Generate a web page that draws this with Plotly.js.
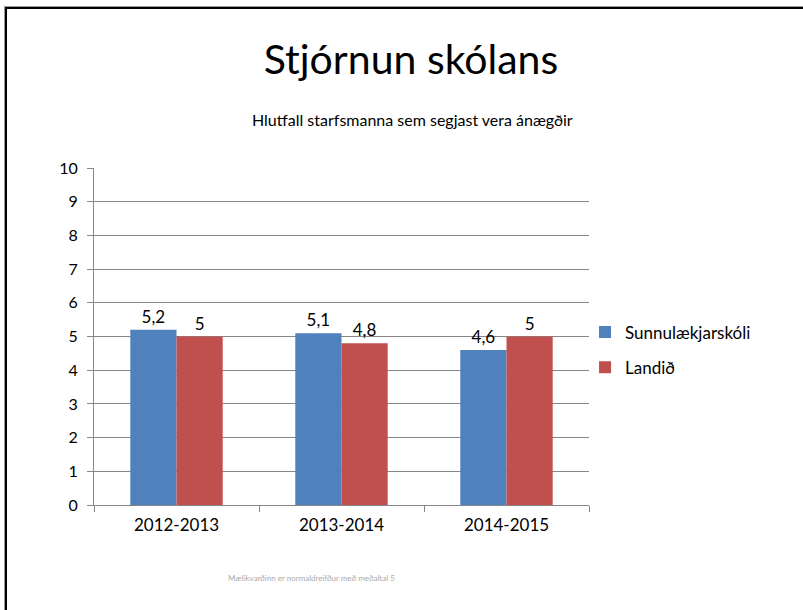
<!DOCTYPE html>
<html>
<head>
<meta charset="utf-8">
<script src="https://cdn.plot.ly/plotly-3.0.1.min.js"></script>
<style>
  html, body { margin: 0; padding: 0; background: #fff; }
  #frame { position: absolute; left: 5px; top: 7px; width: 900px; height: 700px;
           border-left: 2px solid #000; border-top: 2px solid #000;
           box-shadow: -1px -1px 0 #999; }
  #chart { position: absolute; left: 0; top: 0; width: 803px; height: 610px; }
</style>
</head>
<body>
<div id="frame"></div>
<div id="chart"></div>
<script>
const categories = ["2012-2013", "2013-2014", "2014-2015"];
const seriesNames = ["Sunnulækjarskóli", "Landið"];
const sunnulaekjarskoli = [5.2, 5.1, 4.6];
const landid = [5.0, 4.8, 5.0];
const yTicks = [0, 1, 2, 3, 4, 5, 6, 7, 8, 9, 10];
const titleText = "Stjórnun skólans";
const subtitleText = "Hlutfall starfsmanna sem segjast vera ánægðir";
const footnoteText = "Mælikvarðinn er normaldreifður með meðaltal 5";

const font = "Lato, 'Open Sans', sans-serif";

const traces = [
  { type: "bar", name: seriesNames[0], x: categories, y: sunnulaekjarskoli,
    marker: { color: "#4F81BD" }, legendgroup: "a",
    text: sunnulaekjarskoli, texttemplate: "%{y}", textposition: "outside",
    textfont: { size: 17, color: "#000", family: font }, cliponaxis: false },
  { type: "bar", name: seriesNames[1], x: categories, y: landid,
    marker: { color: "#C0504D" }, legendgroup: "b",
    text: landid, texttemplate: "%{y}", textposition: "outside",
    textfont: { size: 17, color: "#000", family: font }, cliponaxis: false }
];

const layout = {
  width: 803, height: 610,
  paper_bgcolor: "rgba(0,0,0,0)", plot_bgcolor: "rgba(0,0,0,0)",
  separators: ",.",
  font: { family: font, color: "#000" },
  margin: { l: 94, r: 214, t: 168, b: 105 },
  barmode: "group", bargap: 0.44, bargroupgap: 0,
  title: { text: titleText, font: { size: 41, family: font, color: "#000" },
           xref: "container", x: 411 / 803, xanchor: "center",
           yref: "container", y: 1 - 60 / 610, yanchor: "middle" },
  xaxis: { type: "category", showgrid: false, showline: true, linecolor: "#868686", linewidth: 1,
           ticks: "outside", tickson: "boundaries", ticklen: 6, tickcolor: "#868686",
           tickfont: { size: 17, color: "#000" }, ticklabelstandoff: 5 },
  yaxis: { range: [0, 10], tickvals: yTicks, showgrid: true, gridcolor: "#868686", gridwidth: 1,
           showline: true, linecolor: "#868686", linewidth: 1, zeroline: false,
           ticks: "outside", ticklen: 6, tickcolor: "#868686",
           tickfont: { size: 16, color: "#000" }, ticklabelstandoff: 6 },
  legend: { x: 0.992, xanchor: "left", y: 0.46, yanchor: "middle",
            font: { size: 17, color: "#000", family: font }, traceorder: "grouped",
            tracegroupgap: 10, bgcolor: "rgba(0,0,0,0)" },
  annotations: [
    { text: subtitleText, xref: "paper", yref: "paper", x: (412 - 94) / 495, y: (505 - 120) / 337,
      xanchor: "center", yanchor: "middle", showarrow: false, font: { size: 16, color: "#000", family: font } },
    { text: footnoteText, xref: "paper", yref: "paper", x: (311 - 94) / 495, y: (505 - 578) / 337,
      xanchor: "center", yanchor: "middle", showarrow: false, font: { size: 8, color: "#aaa", family: font } }
  ],
  showlegend: true
};

Plotly.newPlot("chart", traces, layout, { displayModeBar: false, staticPlot: true });
</script>
</body>
</html>
